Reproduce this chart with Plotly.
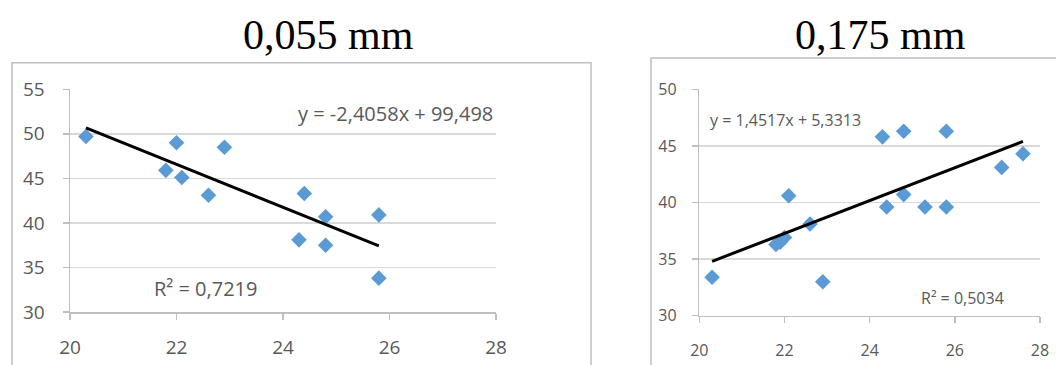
import plotly.graph_objects as go

# ---- data: 0,055 mm ----
x_055 = [20.3, 22.0, 22.9, 21.8, 22.1, 22.6, 24.4, 24.8, 24.3, 24.8, 25.8, 25.8]
y_055 = [49.7, 49.0, 48.5, 45.9, 45.1, 43.1, 43.3, 40.7, 38.1, 37.5, 40.9, 33.8]
slope_055, icpt_055 = -2.4058, 99.498
eq_055 = "y = -2,4058x + 99,498"
r2_055 = "R² = 0,7219"

# ---- data: 0,175 mm ----
x_175 = [20.3, 21.8, 21.9, 22.0, 22.1, 22.6, 22.9, 24.3, 24.4, 24.8, 24.8, 25.3, 25.8, 25.8, 27.1, 27.6]
y_175 = [33.4, 36.3, 36.5, 36.9, 40.6, 38.1, 33.0, 45.8, 39.6, 46.3, 40.7, 39.6, 46.3, 39.6, 43.1, 44.3]
slope_175, icpt_175 = 1.4517, 5.3313
eq_175 = "y = 1,4517x + 5,3313"
r2_175 = "R² = 0,5034"

titles = ["0,055 mm", "0,175 mm"]
x_ticks = [20, 22, 24, 26, 28]
y_ticks_055 = [30, 35, 40, 45, 50, 55]
y_ticks_175 = [30, 35, 40, 45, 50]

W, H = 1056, 365
MARK = "#5b9bd5"
GRID = "#d9d9d9"
AX = "#bfbfbf"
TXT = "#595959"
FONT = "Open Sans"

def px(x):
    return x / W

def py(y):
    return 1 - y / H

fig = go.Figure()

fig.add_trace(go.Scatter(x=x_055, y=y_055, mode="markers",
                         marker=dict(symbol="diamond", size=12, color=MARK),
                         xaxis="x", yaxis="y", showlegend=False))
xs = [min(x_055), max(x_055)]
fig.add_trace(go.Scatter(x=xs, y=[slope_055 * v + icpt_055 for v in xs], mode="lines",
                         line=dict(color="black", width=3),
                         xaxis="x", yaxis="y", showlegend=False))

fig.add_trace(go.Scatter(x=x_175, y=y_175, mode="markers",
                         marker=dict(symbol="diamond", size=12, color=MARK),
                         xaxis="x2", yaxis="y2", showlegend=False))
xs2 = [min(x_175), max(x_175)]
fig.add_trace(go.Scatter(x=xs2, y=[slope_175 * v + icpt_175 for v in xs2], mode="lines",
                         line=dict(color="black", width=3),
                         xaxis="x2", yaxis="y2", showlegend=False))

def xaxis(domain, anchor, fs, standoff):
    return dict(domain=domain, anchor=anchor, range=[20, 28], tickvals=x_ticks,
                showgrid=False, zeroline=False, showline=True, linecolor=AX, linewidth=1.5,
                ticks="outside", ticklen=6, tickcolor=AX, tickwidth=1.5,
                tickfont=dict(family=FONT, size=fs, color=TXT), ticklabelstandoff=standoff,
                fixedrange=True, automargin=False)

def yaxis(domain, anchor, rng, vals, fs, standoff):
    return dict(domain=domain, anchor=anchor, range=rng, tickvals=vals,
                showgrid=True, gridcolor=GRID, gridwidth=1.5, zeroline=False,
                showline=True, linecolor=AX, linewidth=1.5,
                ticks="outside", ticklen=6, tickcolor=AX, tickwidth=1.5,
                tickfont=dict(family=FONT, size=fs, color=TXT), ticklabelstandoff=standoff,
                fixedrange=True, automargin=False)

fig.update_layout(
    width=W, height=H, margin=dict(l=0, r=0, t=0, b=0, autoexpand=False),
    paper_bgcolor="white", plot_bgcolor="white",
    xaxis=xaxis([px(70), px(496)], "y", 19, 12),
    yaxis=yaxis([py(312), py(89.3)], "x", [30, 55], y_ticks_055, 19, 14),
    xaxis2=xaxis([px(699.3), px(1040)], "y2", 16, 14),
    yaxis2=yaxis([py(315.7), py(89.3)], "x2", [30, 50], y_ticks_175, 16, 12),
    shapes=[
        dict(type="rect", xref="paper", yref="paper", x0=px(12), x1=px(591),
             y0=-0.1, y1=py(62.7), line=dict(color=AX, width=1.5), layer="below"),
        dict(type="rect", xref="paper", yref="paper", x0=px(651), x1=1.1,
             y0=-0.1, y1=py(58), line=dict(color=AX, width=1.5), layer="below"),
    ],
    annotations=[
        dict(text=titles[0], xref="paper", yref="paper", x=px(328), y=py(35),
             xanchor="center", yanchor="middle",
             showarrow=False, font=dict(family="Liberation Serif", size=42, color="black")),
        dict(text=titles[1], xref="paper", yref="paper", x=px(880), y=py(35),
             xanchor="center", yanchor="middle",
             showarrow=False, font=dict(family="Liberation Serif", size=42, color="black")),
        dict(text=eq_055, xref="x", yref="y", x=27.98, y=52.34, xanchor="right", yanchor="middle",
             showarrow=False, font=dict(family=FONT, size=20, color=TXT)),
        dict(text=r2_055, xref="x", yref="y", x=22.54, y=32.6, xanchor="center", yanchor="middle",
             showarrow=False, font=dict(family=FONT, size=20, color=TXT)),
        dict(text=eq_175, xref="x2", yref="y2", x=20.2, y=47.3, xanchor="left", yanchor="middle",
             showarrow=False, font=dict(family=FONT, size=16, color=TXT)),
        dict(text=r2_175, xref="x2", yref="y2", x=26.19, y=31.56, xanchor="center", yanchor="middle",
             showarrow=False, font=dict(family=FONT, size=16, color=TXT)),
    ],
)

fig.write_html("out.html", config={"displayModeBar": False, "staticPlot": True},
               post_script="document.body.style.margin='0';document.body.style.overflow='hidden';")
